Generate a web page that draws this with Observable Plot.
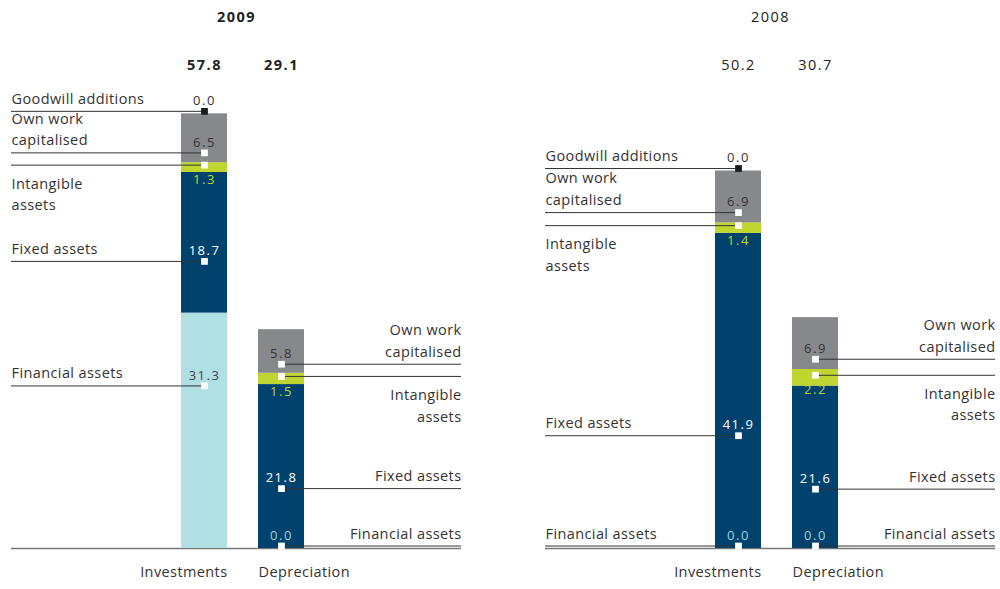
<!DOCTYPE html>
<html>
<head>
<meta charset="utf-8">
<script src="https://cdn.jsdelivr.net/npm/d3@7"></script>
<script src="https://cdn.jsdelivr.net/npm/@observablehq/plot@0.6"></script>
<style>
  body { margin: 0; background: #fff; }
  #chart svg { display: block; }
</style>
</head>
<body>
<div id="chart"></div>
<script>
// ---- data ----
const years = ["2009", "2008"];
const bars = ["Investments", "Depreciation"];
const components = ["Financial assets", "Fixed assets", "Intangible assets", "Own work capitalised", "Goodwill additions"];
const componentLabels = ["Financial assets", "Fixed assets", "Intangible\nassets", "Own work\ncapitalised", "Goodwill additions"];
const investments2009 = [31.3, 18.7, 1.3, 6.5, 0.0];
const depreciation2009 = [0.0, 21.8, 1.5, 5.8, null];
const investments2008 = [0.0, 41.9, 1.4, 6.9, 0.0];
const depreciation2008 = [0.0, 21.6, 2.2, 6.9, null];
const totals2009 = [57.8, 29.1];
const totals2008 = [50.2, 30.7];

// ---- styling ----
const segmentColors = {
  "Financial assets": "#b0dfe4",
  "Fixed assets": "#00426e",
  "Intangible assets": "#bed62f",
  "Own work capitalised": "#87888c",
  "Goodwill additions": "#87888c"
};
// where on each segment the leader line points (fraction of segment height)
const anchorFraction = {
  "Financial assets": 0.68,
  "Fixed assets": 0.35,
  "Intangible assets": 0.5,
  "Own work capitalised": 0.15,
  "Goodwill additions": 0
};
const valueColor = d => {
  switch (d.comp) {
    case "Intangible assets": return "#bed62f";
    case "Fixed assets": return "#ffffff";
    case "Financial assets": return d.value > 0 ? "#444444" : "#9ed3dc";
    default: return "#333333";
  }
};

// ---- build tables ----
const series = {
  "2009": {Investments: investments2009, Depreciation: depreciation2009},
  "2008": {Investments: investments2008, Depreciation: depreciation2008}
};
const totals = {"2009": totals2009, "2008": totals2008};
const rows = [];
const totalRows = [];
for (const year of years) {
  bars.forEach((bar, b) => {
    let base = 0;
    series[year][bar].forEach((v, k) => {
      if (v == null) return;
      const comp = components[k];
      rows.push({
        year, bar, comp, label: componentLabels[k], value: v,
        y1: base, y2: base + v,
        anchor: base + anchorFraction[comp] * v,
        color: segmentColors[comp]
      });
      base += v;
    });
    totalRows.push({year, bar, total: totals[year][b]});
  });
}
const below = d => d.comp === "Intangible assets";
const inv = rows.filter(d => d.bar === "Investments");
const dep = rows.filter(d => d.bar === "Depreciation");

// panel layout (px)
const xInsetLeft = 170, xInsetRight = 157;
const half = 23; // half bar width
const labelFont = 14.5;

const chart = Plot.plot({
  width: 1000,
  height: 589,
  marginLeft: 11,
  marginRight: 5,
  marginTop: 0,
  marginBottom: 41,
  fx: {domain: years, paddingInner: 84 / 534, paddingOuter: 0, round: false, axis: null, label: null},
  x: {domain: bars, paddingInner: 31 / 77, paddingOuter: 0, insetLeft: xInsetLeft, insetRight: xInsetRight, round: false, axis: null, label: null},
  y: {domain: [0, 548 / 7.52], axis: null},
  color: {type: "identity"},
  style: {fontFamily: "'Open Sans', sans-serif", color: "#333"},
  marks: [
    // baseline per panel
    Plot.ruleY(years, {fx: d => d, y: () => 0, stroke: "#777", strokeWidth: 1.5}),
    // stacked bars
    Plot.barY(rows, {fx: "year", x: "bar", y1: "y1", y2: "y2", fill: "color"}),
    // leader lines: investments run from the panel's left edge to the bar centre,
    // depreciation from the bar centre to the panel's right edge
    Plot.ruleY(inv, {fx: "year", y: "anchor", x1: "bar", x2: "bar", insetLeft: -xInsetLeft, insetRight: half, dy: -2.5, stroke: "#333", strokeWidth: 1}),
    Plot.ruleY(dep, {fx: "year", y: "anchor", x1: "bar", x2: "bar", insetLeft: half, insetRight: -xInsetRight, dy: -2.5, stroke: "#333", strokeWidth: 1}),
    // markers
    Plot.dot(rows.filter(d => d.comp !== "Goodwill additions"), {fx: "year", x: "bar", y: "anchor", dy: -2.5, symbol: "square", r: 3.8, fill: "#fff"}),
    Plot.dot(rows.filter(d => d.comp === "Goodwill additions"), {fx: "year", x: "bar", y: "anchor", dy: -2.5, symbol: "square", r: 3.8, fill: "#1a1a1a"}),
    // value labels
    Plot.text(rows.filter(d => !below(d)), {fx: "year", x: "bar", y: "anchor", text: d => d.value.toFixed(1), dy: -13, fill: valueColor, fontSize: 13, lineAnchor: "middle"}),
    Plot.text(rows.filter(below), {fx: "year", x: "bar", y: "anchor", text: d => d.value.toFixed(1), dy: 12.5, fill: valueColor, fontSize: 13, lineAnchor: "middle"}),
    // category labels (investments: left, depreciation: right)
    Plot.text(inv.filter(d => !below(d)), {fx: "year", y: "anchor", text: "label", frameAnchor: "left", textAnchor: "start", lineAnchor: "bottom", dy: -10, lineHeight: 1.5, fontSize: labelFont, fill: "#333"}),
    Plot.text(inv.filter(below), {fx: "year", y: "anchor", text: "label", frameAnchor: "left", textAnchor: "start", lineAnchor: "top", dy: 5.5, lineHeight: 1.5, fontSize: labelFont, fill: "#333"}),
    Plot.text(dep.filter(d => !below(d)), {fx: "year", y: "anchor", text: "label", frameAnchor: "right", textAnchor: "end", lineAnchor: "bottom", dy: -10, lineHeight: 1.5, fontSize: labelFont, fill: "#333"}),
    Plot.text(dep.filter(below), {fx: "year", y: "anchor", text: "label", frameAnchor: "right", textAnchor: "end", lineAnchor: "top", dy: 5.5, lineHeight: 1.5, fontSize: labelFont, fill: "#333"}),
    // totals
    Plot.text(totalRows.filter(d => d.year === "2009"), {fx: "year", x: "bar", text: d => d.total.toFixed(1), frameAnchor: "top", lineAnchor: "middle", dy: 65, fontSize: 14.5, fontWeight: "bold", fill: "#222"}),
    Plot.text(totalRows.filter(d => d.year !== "2009"), {fx: "year", x: "bar", text: d => d.total.toFixed(1), frameAnchor: "top", lineAnchor: "middle", dy: 65, fontSize: 14.5, fill: "#222"}),
    // year titles
    Plot.text(years.filter(y => y === "2009"), {fx: d => d, text: d => d, frameAnchor: "top", lineAnchor: "middle", dy: 17, fontSize: 14.5, fontWeight: "bold", fill: "#222"}),
    Plot.text(years.filter(y => y !== "2009"), {fx: d => d, text: d => d, frameAnchor: "top", lineAnchor: "middle", dy: 17, fontSize: 14.5, fill: "#222"}),
    // bar names below the baseline
    Plot.text(totalRows.filter(d => d.bar === "Investments"), {fx: "year", x: "bar", text: "bar", frameAnchor: "bottom", lineAnchor: "middle", dy: 24, dx: half, textAnchor: "end", fontSize: labelFont, fill: "#333"}),
    Plot.text(totalRows.filter(d => d.bar === "Depreciation"), {fx: "year", x: "bar", text: "bar", frameAnchor: "bottom", lineAnchor: "middle", dy: 24, dx: -half, textAnchor: "start", fontSize: labelFont, fill: "#333"})
  ]
});
document.getElementById("chart").appendChild(chart);
// letter spacing: numbers are spaced wider than words
d3.select(chart).selectAll("text").each(function () {
  const t = this.textContent.trim();
  this.style.letterSpacing = /^[\d.]+$/.test(t) ? "1.5px" : "0.4px";
});
</script>
</body>
</html>
